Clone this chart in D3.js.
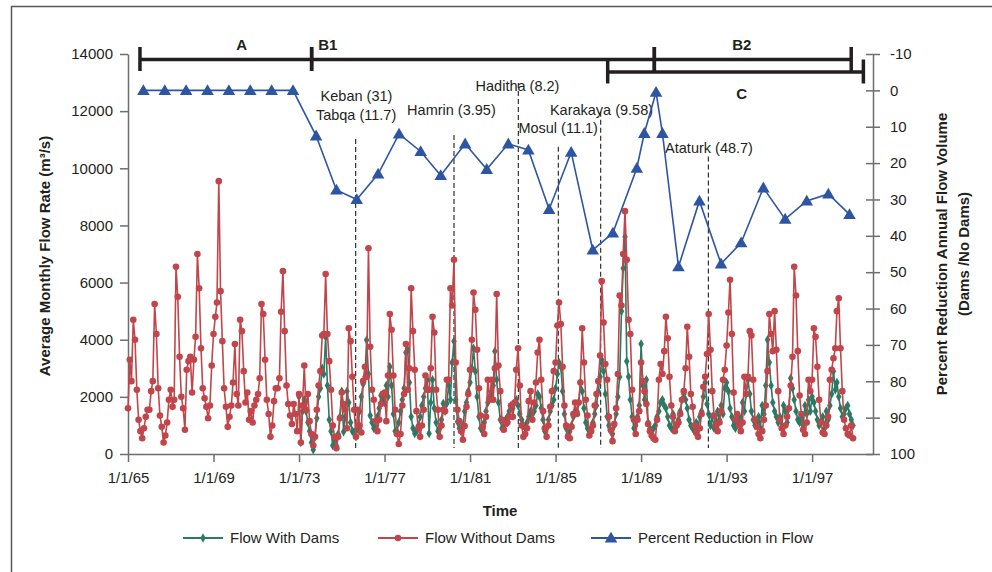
<!DOCTYPE html>
<html>
<head>
<meta charset="utf-8">
<script src="https://cdn.jsdelivr.net/npm/d3@7"></script>
<style>
body { margin: 0; background: #fff; }
text { font-family: "Liberation Sans", Arial, Helvetica, sans-serif; fill: #231f20; }
</style>
</head>
<body>
<svg id="chart" width="992" height="572"></svg>
<script>
// monthly flow without dams (m3/s), one row per year, Jan 1965 - Dec 1998
const flowNoDams = [
  [1600, 3300, 2550, 4700, 4000, 2250, 1200, 800, 550, 900, 1300, 1550],
  [1550, 2200, 2550, 5250, 4200, 2300, 1350, 950, 400, 650, 1100, 1900],
  [2250, 1650, 1900, 6550, 5500, 3400, 2000, 1600, 850, 2950, 3250, 3400],
  [2150, 3300, 4100, 7000, 5800, 3700, 2300, 1950, 1650, 1250, 1700, 3100],
  [4200, 4800, 5300, 9550, 5700, 3950, 2300, 1650, 950, 1300, 1700, 2500],
  [3850, 2100, 1700, 4700, 4300, 2900, 1800, 2150, 1200, 1500, 1100, 1700],
  [1900, 2100, 2650, 5250, 4900, 3300, 1900, 1400, 600, 1000, 1850, 2300],
  [2300, 2650, 4980, 6400, 4300, 2400, 1750, 1350, 1050, 1750, 1400, 800],
  [2100, 400, 1700, 3100, 1550, 2100, 1150, 700, 300, 600, 1550, 2400],
  [2900, 4150, 4200, 6300, 4200, 3250, 2250, 1000, 600, 200, 600, 1250],
  [2150, 1750, 1550, 900, 4400, 3950, 2700, 1550, 600, 1550, 1000, 750],
  [2550, 3050, 2700, 7200, 3750, 2250, 1900, 1150, 800, 1200, 1750, 2100],
  [2150, 1150, 2750, 4900, 4350, 2750, 1550, 700, 350, 700, 1700, 2100],
  [3850, 2250, 3000, 5800, 4300, 2950, 1500, 900, 600, 1000, 1550, 2750],
  [2250, 2250, 3000, 4800, 4250, 2250, 1550, 600, 1000, 1550, 1500, 2600],
  [2600, 5800, 5200, 6800, 3200, 1550, 1150, 800, 500, 980, 1650, 2100],
  [2950, 4000, 5650, 5050, 3650, 2300, 1350, 950, 700, 1300, 2600, 1900],
  [2600, 1900, 3000, 5600, 3100, 2200, 1200, 850, 1050, 1100, 1300, 1700],
  [1300, 1800, 2950, 3700, 2400, 1000, 600, 700, 900, 1850, 2200, 1200],
  [1800, 2500, 3550, 4000, 2600, 1500, 900, 600, 1000, 1650, 2200, 2900],
  [3200, 4500, 5300, 4550, 3050, 1700, 1000, 600, 550, 950, 1400, 1800],
  [1400, 1800, 2500, 4400, 3200, 1900, 1350, 650, 800, 1000, 1700, 2100],
  [2550, 3450, 6050, 4600, 3150, 2600, 1300, 850, 450, 1050, 1600, 2800],
  [5550, 5200, 7000, 8500, 6800, 4700, 4200, 2250, 1200, 700, 1200, 1500],
  [3200, 2550, 2200, 1750, 1050, 800, 650, 550, 500, 1200, 2600, 3150],
  [2800, 3600, 4800, 4050, 2700, 1700, 1300, 800, 1000, 1100, 1400, 1900],
  [2200, 3000, 4450, 3400, 2100, 1650, 1000, 750, 600, 900, 1400, 2350],
  [2700, 3500, 4900, 3650, 2200, 1350, 1000, 800, 1100, 1500, 2600, 2950],
  [3800, 4950, 6100, 4200, 2150, 1200, 1400, 1000, 800, 1100, 2700, 2100],
  [2700, 4300, 4150, 2600, 1200, 950, 700, 550, 800, 1200, 1700, 2900],
  [4900, 4200, 3600, 5000, 3650, 2200, 1200, 900, 700, 1000, 1300, 1600],
  [2400, 3400, 6550, 5550, 3600, 2050, 1400, 850, 700, 1100, 2600, 2200],
  [2600, 4400, 4100, 3050, 1900, 1100, 750, 700, 1000, 1300, 2600, 2950],
  [3350, 3700, 5000, 5450, 3700, 2200, 1200, 900, 700, 650, 1000, 550]
];

// monthly flow with dams (m3/s), one row per year, Jan 1973 - Dec 1998
const flowDams = [
  [2000, 400, 1500, 1900, 1500, 1100, 800, 400, 150, 600, 1250, 2000],
  [2300, 3000, 2800, 4100, 2400, 1200, 800, 300, 500, 300, 700, 1300],
  [2200, 780, 1300, 2200, 1800, 1100, 800, 780, 600, 900, 1500, 2000],
  [2450, 2700, 3990, 2800, 1350, 1100, 900, 1000, 1300, 1600, 2050, 1900],
  [1800, 2400, 2000, 3050, 2400, 1400, 800, 800, 1100, 1500, 1900, 2300],
  [3550, 3650, 2500, 1300, 900, 720, 800, 1000, 1300, 1700, 2000, 2300],
  [2600, 720, 1800, 2600, 1600, 1100, 800, 900, 1200, 1770, 1500, 1770],
  [2400, 1900, 3200, 3950, 1900, 1130, 900, 800, 1000, 1500, 1800, 2200],
  [2500, 3000, 3700, 2900, 2000, 1300, 900, 800, 1100, 1500, 1800, 2000],
  [2100, 2400, 3600, 2600, 1800, 1200, 900, 1000, 1200, 1300, 1500, 1700],
  [1600, 1800, 1900, 1700, 1400, 1200, 1000, 900, 1100, 1300, 1500, 1400],
  [1500, 1700, 2100, 2000, 1600, 1200, 800, 900, 1200, 1500, 1700, 1900],
  [2300, 2800, 3200, 3050, 2200, 1400, 900, 700, 800, 1000, 1300, 1500],
  [1500, 1800, 2500, 2200, 1600, 1100, 900, 700, 900, 1100, 1400, 1700],
  [2200, 2700, 3300, 2900, 2100, 1300, 1000, 800, 700, 1000, 1400, 2000],
  [2700, 5000, 6500, 7600, 3250, 2700, 1900, 1300, 900, 1000, 1300, 1700],
  [3850, 2400, 1900, 2600, 1100, 900, 800, 900, 1000, 1300, 1500, 1800],
  [1900, 1700, 1600, 1300, 1000, 900, 1400, 900, 1000, 1200, 1500, 1900],
  [2100, 1900, 1600, 1200, 1000, 900, 800, 1100, 900, 1300, 1500, 2000],
  [2500, 1750, 1400, 1000, 1300, 900, 1100, 1500, 1200, 1700, 1400, 2300],
  [2500, 2200, 1600, 1300, 1000, 900, 1100, 1300, 1000, 1800, 1500, 2100],
  [2600, 2100, 1500, 1200, 1000, 1100, 1300, 900, 1700, 1400, 2400, 4000],
  [3200, 2400, 1800, 1500, 1300, 1100, 1300, 900, 1700, 1500, 1100, 1600],
  [2650, 2300, 1900, 1500, 1200, 1100, 1300, 1000, 1700, 1400, 1900, 1500],
  [2000, 1800, 1500, 1200, 1000, 1100, 1300, 900, 1500, 1200, 1700, 2100],
  [2900, 2250, 2500, 2000, 1600, 1300, 1400, 1600, 1700, 1400, 1200, 1000]
];

// percent reduction in annual flow volume (right axis)
const pctYears = [1965.72, 1966.72, 1967.72, 1968.72, 1969.72, 1970.72, 1971.72, 1972.72,
  1973.8, 1974.75, 1975.7, 1976.7, 1977.68, 1978.69, 1979.63, 1980.77, 1981.78, 1982.79,
  1983.73, 1984.7, 1985.73, 1986.74, 1987.68, 1988.8, 1989.15, 1989.7, 1990.0, 1990.75,
  1991.73, 1992.74, 1993.68, 1994.72, 1995.74, 1996.75, 1997.76, 1998.75];
const pctValues = [0, 0, 0, 0, 0, 0, 0, 0,
  12.5, 27.4, 30, 23, 12, 16.8, 23.4, 14.7, 21.7, 14.7,
  16.4, 32.7, 17, 43.9, 39.2, 21.4, 11.8, 0.5, 11.8, 48.5,
  30.4, 47.7, 41.9, 26.8, 35.4, 30.4, 28.5, 34.1];

// dam commissioning lines and labels
const damLineYears = [1975.65, 1980.25, 1983.26, 1985.13, 1987.11, 1992.15];
const damLineTops = [13.4, 12.3, -2, 15.5, 5.9, 18.2];
const damNames = ["Keban (31)", "Tabqa (11.7)", "Hamrin (3.95)", "Haditha (8.2)", "Mosul (11.1)", "Karakaya (9.58)", "Ataturk (48.7)"];
const damLabelYears = [1975.69, 1975.67, 1980.13, 1983.22, 1985.12, 1987.15, 1992.18];
const damLabelLevels = [1.5, 6.8, 5.4, -1.3, 10.2, 5.4, 15.8];

// period bars
const periodNames = ["A", "B1", "B2", "C"];
const periodStart = [1965.56, 1973.59, 1989.62, 1987.44];
const periodEnd = [1973.59, 1989.62, 1998.83, 1999.4];
const periodRow = [0, 0, 0, 1];
const periodLabelYears = [1970.32, 1973.9, 1993.71, 1993.71];
const periodLabelAnchor = ["middle", "start", "middle", "middle"];

const yTicksLeft = [0, 2000, 4000, 6000, 8000, 10000, 12000, 14000];
const yTicksRight = [-10, 0, 10, 20, 30, 40, 50, 60, 70, 80, 90, 100];
const xTickYears = [1965, 1969, 1973, 1977, 1981, 1985, 1989, 1993, 1997];

const RED = "#c1464b", GREEN = "#2b7a63", BLUE = "#2d55a1", AXIS = "#6d6e70";

const svg = d3.select("#chart");
const plotLeft = 128, plotRight = 873, plotTop = 54, plotBottom = 454;

function toDate(y) {
  const yr = Math.floor(y), a = new Date(yr, 0, 1), b = new Date(yr + 1, 0, 1);
  return new Date(+a + (y - yr) * (b - a));
}

const x = d3.scaleTime().domain([new Date(1965, 0, 1), toDate(1999.85)]).range([plotLeft, plotRight]);
const yL = d3.scaleLinear().domain([0, 14000]).range([plotBottom, plotTop]);
const yR = d3.scaleLinear().domain([-10, 100]).range([plotTop, plotBottom]);

// frame
svg.append("path").attr("d", "M11.5,572V6.5H992").attr("fill", "none").attr("stroke", "#58595b").attr("stroke-width", 1.5);

// axes
const fmt = d3.timeFormat("%-m/%-d/%y");
const gx = svg.append("g").attr("transform", `translate(0,${plotBottom})`)
  .call(d3.axisBottom(x).tickValues(xTickYears.map(y => new Date(y, 0, 1))).tickFormat(fmt).tickSize(8).tickSizeOuter(0).tickPadding(10));
const gl = svg.append("g").attr("transform", `translate(${plotLeft},0)`)
  .call(d3.axisLeft(yL).tickValues(yTicksLeft).tickFormat(d => String(d)).tickSize(8).tickSizeOuter(0).tickPadding(7));
const gr = svg.append("g").attr("transform", `translate(${plotRight},0)`)
  .call(d3.axisRight(yR).tickValues(yTicksRight).tickFormat(d => String(d)).tickSize(7).tickSizeOuter(0).tickPadding(10));
gr.selectAll(".tick line").attr("x1", -7);
[gx, gl, gr].forEach(g => {
  g.selectAll("path, line").attr("stroke", AXIS).attr("stroke-width", 1.5);
  g.selectAll("text").attr("font-size", 15).attr("fill", "#231f20")
    .attr("font-family", '"Liberation Sans", Arial, sans-serif');
});

// axis titles
svg.append("text").attr("x", 500).attr("y", 516).attr("text-anchor", "middle")
  .attr("font-size", 15).attr("font-weight", "bold").text("Time");
svg.append("text").attr("transform", "translate(50,256) rotate(-90)").attr("text-anchor", "middle")
  .attr("font-size", 15).attr("font-weight", "bold").text("Average Monthly Flow Rate (m³/s)");
const rt = svg.append("text").attr("transform", "translate(947,254) rotate(-90)").attr("text-anchor", "middle")
  .attr("font-size", 15).attr("font-weight", "bold");
rt.append("tspan").attr("x", 0).attr("y", 0).text("Percent Reduction Annual Flow Volume");
rt.append("tspan").attr("x", 0).attr("y", 22).text("(Dams /No Dams)");

// dam lines and labels
svg.append("g").selectAll("line").data(damLineYears).join("line")
  .attr("x1", d => x(toDate(d))).attr("x2", d => x(toDate(d)))
  .attr("y1", (d, i) => yR(damLineTops[i])).attr("y2", plotBottom - 6)
  .attr("stroke", "#333").attr("stroke-width", 1.2).attr("stroke-dasharray", "5,3");
svg.append("g").selectAll("text").data(damNames).join("text")
  .attr("x", (d, i) => x(toDate(damLabelYears[i])))
  .attr("y", (d, i) => yR(damLabelLevels[i]))
  .attr("dy", "0.35em").attr("text-anchor", "middle").attr("font-size", 14.5)
  .text(d => d);

// period bars
const rowY = [59.5, 72];
const gp = svg.append("g").attr("stroke", "#231f20").attr("stroke-width", 3.5);
periodNames.forEach((n, i) => {
  const x0 = x(toDate(periodStart[i])), x1 = x(toDate(periodEnd[i])), yy = rowY[periodRow[i]];
  gp.append("line").attr("x1", x0).attr("x2", x1).attr("y1", yy).attr("y2", yy);
  [x0, x1].forEach(xx => gp.append("line").attr("x1", xx).attr("x2", xx).attr("y1", yy - 12.5).attr("y2", yy + 11.5));
  svg.append("text").attr("x", x(toDate(periodLabelYears[i])))
    .attr("y", periodRow[i] === 0 ? 45 : 94).attr("dy", "0.35em")
    .attr("text-anchor", periodLabelAnchor[i]).attr("font-size", 15).attr("font-weight", "bold").text(n);
});

// series
const red = flowNoDams.flat().map((v, i) => ({ date: new Date(1965, i, 1), v }));
const green = flowDams.flat().map((v, i) => ({ date: new Date(1973, i, 1), v }));
const pct = pctYears.map((y, i) => ({ date: toDate(y), v: pctValues[i] }));

const lineL = d3.line().x(d => x(d.date)).y(d => yL(d.v));
const lineR = d3.line().x(d => x(d.date)).y(d => yR(d.v));

const diamond = d3.symbol().type(d3.symbolDiamond).size(26);
const tri = d3.symbol().type(d3.symbolTriangle).size(68);

svg.append("path").datum(green).attr("d", lineL).attr("fill", "none").attr("stroke", GREEN).attr("stroke-width", 1.6);
svg.append("g").selectAll("path").data(green).join("path")
  .attr("d", diamond).attr("transform", d => `translate(${x(d.date)},${yL(d.v)})`).attr("fill", GREEN);

svg.append("path").datum(red).attr("d", lineL).attr("fill", "none").attr("stroke", RED).attr("stroke-width", 1.6);
svg.append("g").selectAll("circle").data(red).join("circle")
  .attr("cx", d => x(d.date)).attr("cy", d => yL(d.v)).attr("r", 3.3).attr("fill", RED);

svg.append("path").datum(pct).attr("d", lineR).attr("fill", "none").attr("stroke", BLUE).attr("stroke-width", 1.6);
svg.append("g").selectAll("path").data(pct).join("path")
  .attr("d", tri).attr("transform", d => `translate(${x(d.date)},${yR(d.v) + 1})`).attr("fill", BLUE);

// legend
const legendNames = ["Flow With Dams", "Flow Without Dams", "Percent Reduction in Flow"];
const legendColors = [GREEN, RED, BLUE];
const legendX = [183, 378, 591];
const gLeg = svg.append("g").attr("transform", "translate(0,538)");
legendNames.forEach((n, i) => {
  const lx = legendX[i];
  gLeg.append("line").attr("x1", lx).attr("x2", lx + 40).attr("stroke", legendColors[i]).attr("stroke-width", 1.8);
  const m = i === 1
    ? gLeg.append("circle").attr("cx", lx + 20).attr("r", 3.3)
    : gLeg.append("path").attr("d", i === 0 ? diamond() : tri()).attr("transform", `translate(${lx + 20},${i === 2 ? 1 : 0})`);
  m.attr("fill", legendColors[i]);
  gLeg.append("text").attr("x", lx + 47).attr("dy", "0.35em").attr("font-size", 15).text(n);
});
</script>
</body>
</html>
